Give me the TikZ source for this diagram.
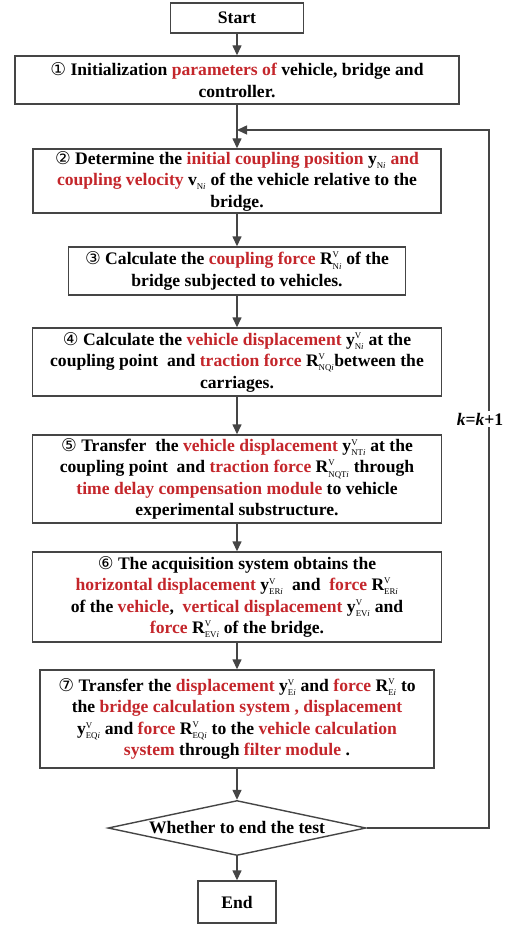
\documentclass[tikz,border=0pt]{standalone}
\usepackage{amsmath}
\usepackage{fontspec}
\setmainfont{Liberation Serif}
\newfontfamily\circfont{DejaVu Sans}
\usetikzlibrary{arrows.meta,shapes.geometric}
\definecolor{hlRed}{HTML}{C4262B}
\definecolor{lnGray}{HTML}{454545}
\newcommand{\hlr}[1]{\textcolor{hlRed}{#1}}
\newcommand{\cnum}[1]{{\circfont\mdseries #1}}
\newcommand{\qsym}[3]{$\text{#1}^{\scriptscriptstyle\text{\mdseries #2}}_{\scriptscriptstyle\text{\mdseries #3\textit{i}}}$}

\begin{document}
\begin{tikzpicture}[x=1pt, y=-1pt, font=\fontsize{17.6}{21.5}\selectfont\bfseries,
  bx/.style={draw=lnGray, line width=1.4pt, align=center, inner sep=0pt},
  ar/.style={draw=lnGray, line width=1.4pt, -{Triangle[length=10pt,width=9pt]}}]
\useasboundingbox (0,0) rectangle (511,925);
% steps of the test, top to bottom
\node[bx, minimum width=133pt, minimum height=30pt] (start) at (237,18) {Start};
\node[bx, minimum width=444pt, minimum height=48pt] (s1) at (237,80)
  {\cnum{①} Initialization \hlr{parameters of} vehicle, bridge and\\ controller.};
\node[bx, minimum width=408pt, minimum height=64pt] (s2) at (237,181)
  {\cnum{②} Determine the \hlr{initial coupling position} \qsym{y}{}{N} \hlr{and}\\
   \hlr{coupling velocity} \qsym{v}{}{N} of the vehicle relative to the\\ bridge.};
\node[bx, minimum width=337pt, minimum height=48pt] (s3) at (237,271)
  {\cnum{③} Calculate the \hlr{coupling force} \qsym{R}{V}{N} of the\\
   bridge subjected to vehicles.};
\node[bx, minimum width=409pt, minimum height=68pt] (s4) at (237,362)
  {\cnum{④} Calculate the \hlr{vehicle displacement} \qsym{y}{V}{N} at the\\
   coupling point\ \ and \hlr{traction force} \qsym{R}{V}{NQ}between the\\ carriages.};
\node[bx, minimum width=409pt, minimum height=88pt] (s5) at (237,479)
  {\cnum{⑤} Transfer\ \ the \hlr{vehicle displacement} \qsym{y}{V}{NT} at the\\
   coupling point\ \ and \hlr{traction force} \qsym{R}{V}{NQT} through\\
   \hlr{time delay compensation module} to vehicle\\ experimental substructure.};
\node[bx, minimum width=409pt, minimum height=90pt] (s6) at (237,597)
  {\cnum{⑥} The acquisition system obtains the\\
   \hlr{horizontal displacement} \qsym{y}{V}{ER}\ \ and\ \ \hlr{force} \qsym{R}{V}{ER}\\
   of the \hlr{vehicle},\ \ \hlr{vertical displacement}\ \qsym{y}{V}{EV} and\\
   \hlr{force} \qsym{R}{V}{EV} of the bridge.};
\node[bx, minimum width=394pt, minimum height=98pt] (s7) at (237,719)
  {\cnum{⑦}\ Transfer the \hlr{displacement}\ \qsym{y}{V}{E} and \hlr{force} \qsym{R}{V}{E} to\\
   the \hlr{bridge calculation system , displacement}\\
   \qsym{y}{V}{EQ} and \hlr{force} \qsym{R}{V}{EQ} to the \hlr{vehicle calculation}\\
   \hlr{system} through \hlr{filter module} .};
\node[bx, diamond, aspect=4.7, minimum width=258pt, minimum height=55pt] (dec) at (237,828)
  {Whether to end the test};
\node[bx, minimum width=78pt, minimum height=42pt] (end) at (237,902) {End};
% main flow
\draw[ar] (start) -- (s1);
\draw[ar] (s1) -- (s2);
\draw[ar] (s2) -- (s3);
\draw[ar] (s3) -- (s4);
\draw[ar] (s4) -- (s5);
\draw[ar] (s5) -- (s6);
\draw[ar] (s6) -- (s7);
\draw[ar] (s7) -- (dec);
\draw[ar] (dec) -- (end);
% loop back
\coordinate (back) at (237,130);
\coordinate (rt) at (489,130);
\draw[ar] (dec.east) -| (rt) -- (back);
\node[fill=white, inner sep=2pt] (kk) at (480,419) {\textit{k}=\textit{k}+1};
\end{tikzpicture}
\end{document}
